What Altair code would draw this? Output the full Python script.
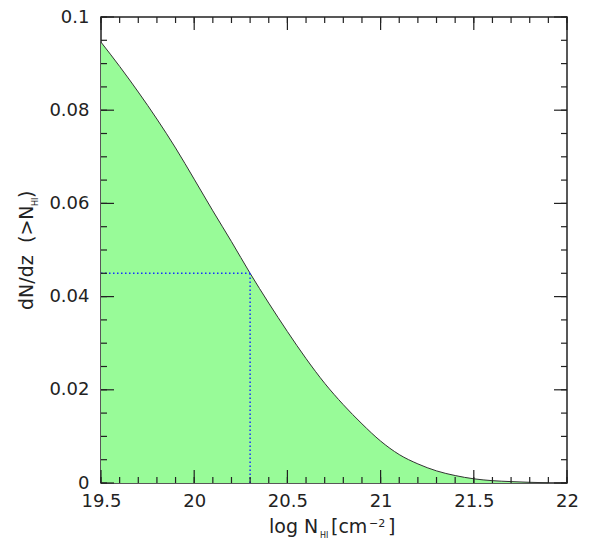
import altair as alt
import pandas as pd

# Cumulative incidence curve
log_nhi = [19.5, 19.6, 19.7, 19.8, 19.9, 20.0, 20.1, 20.2, 20.3, 20.4, 20.5, 20.6,
           20.7, 20.8, 20.9, 21.0, 21.1, 21.2, 21.3, 21.4, 21.5, 21.6, 21.7, 21.8, 21.9]
dndz = [0.0946, 0.0894, 0.0839, 0.0781, 0.0719, 0.0652, 0.0584, 0.0518, 0.0450, 0.0386,
        0.0325, 0.0267, 0.0214, 0.0168, 0.0127, 0.0090, 0.0061, 0.0041, 0.0026, 0.0016,
        0.0009, 0.0005, 0.0003, 0.00015, 0.00005]

# dotted marker
mark_x = 20.3
mark_y = 0.045

# axis ticks
x_major = [19.5, 20.0, 20.5, 21.0, 21.5, 22.0]
x_minor = [round(19.5 + 0.1 * i, 2) for i in range(26)]
y_major = [0.0, 0.02, 0.04, 0.06, 0.08, 0.1]
y_minor = [round(0.005 * i, 3) for i in range(21)]

X0, X1 = 19.5, 22.0
Y0, Y1 = 0.0, 0.1
W = 466
H = 466
MAJ = 13
MIN = 6
INK = "#222222"
FONT = "DejaVu Sans"

xscale = alt.Scale(domain=[X0, X1], nice=False, zero=False)
yscale = alt.Scale(domain=[Y0, Y1], nice=False, zero=False)
xaxis = alt.Axis(values=x_major, format="~g", labelFlush=False, labelOverlap=False,
                 labelPadding=9, title=None)
yaxis = alt.Axis(values=y_major, format="~g", labelFlush=False, labelOverlap=False,
                 labelPadding=12, title=None)


def X(field):
    return alt.X(f"{field}:Q", scale=xscale, axis=xaxis)


def Y(field):
    return alt.Y(f"{field}:Q", scale=yscale, axis=yaxis)


curve = pd.DataFrame({"x": log_nhi, "y": dndz})

area = alt.Chart(curve).mark_area(color="#98FB98", opacity=1, interpolate="monotone").encode(
    x=X("x"), y=Y("y"))
line = alt.Chart(curve).mark_line(color="#333333", strokeWidth=1, interpolate="monotone").encode(
    x=X("x"), y=Y("y"))

hline = alt.Chart(pd.DataFrame({"x": [X0], "x2": [mark_x], "y": [mark_y]})).mark_rule(
    color="#1530ff", strokeDash=[1.5, 2.5], strokeWidth=1.5
).encode(x=X("x"), x2="x2:Q", y=Y("y"))
vline = alt.Chart(pd.DataFrame({"x": [mark_x], "y": [Y0], "y2": [mark_y]})).mark_rule(
    color="#1530ff", strokeDash=[1.5, 2.5], strokeWidth=1.5
).encode(x=X("x"), y=Y("y"), y2="y2:Q")

ypx = (Y1 - Y0) / H
xpx = (X1 - X0) / W
TICK = INK


def xticks(vals, length):
    df = pd.DataFrame({"x": vals})
    bottom = alt.Chart(df).mark_rule(color=TICK, strokeWidth=1.2).encode(
        x=X("x"), y=alt.datum(Y0), y2=alt.datum(Y0 + length * ypx))
    top = alt.Chart(df).mark_rule(color=TICK, strokeWidth=1.2).encode(
        x=X("x"), y=alt.datum(Y1), y2=alt.datum(Y1 - length * ypx))
    return [bottom, top]


def yticks(vals, length):
    df = pd.DataFrame({"y": vals})
    left = alt.Chart(df).mark_rule(color=TICK, strokeWidth=1.2).encode(
        y=Y("y"), x=alt.datum(X0), x2=alt.datum(X0 + length * xpx))
    right = alt.Chart(df).mark_rule(color=TICK, strokeWidth=1.2).encode(
        y=Y("y"), x=alt.datum(X1), x2=alt.datum(X1 - length * xpx))
    return [left, right]


def label(text, x, y, size, angle=0):
    return alt.Chart(pd.DataFrame({"t": [text]})).mark_text(
        align="left", baseline="alphabetic", font=FONT, fontSize=size,
        color=INK, angle=angle
    ).encode(x=alt.value(x), y=alt.value(y), text="t:N")


titles = [
    label("log N", 168, 516, 19),
    label("HI", 219, 521, 8),
    label("[cm", 230, 516, 19),
    label("\u22122", 268, 510, 11),
    label("]", 287, 516, 19),
    label("dN/dz", -68, 293, 19, 270),
    label("(>N", -68, 226, 19, 270),
    label("HI", -63, 189, 8, 270),
    label(")", -68, 181, 19, 270),
]

layers = [area, line, hline, vline]
layers += xticks(x_minor, MIN) + xticks(x_major, MAJ)
layers += yticks(y_minor, MIN) + yticks(y_major, MAJ)
layers += titles

chart = alt.layer(*layers).properties(
    width=W, height=H,
    autosize=alt.AutoSizeParams(type="none"),
    padding={"left": 93, "top": 9, "right": 23, "bottom": 63},
).configure_view(
    stroke=INK, strokeWidth=1.5
).configure_axis(
    ticks=False, domain=False, grid=False,
    labelFont=FONT, labelFontSize=18, labelColor=INK,
)

chart.save("out.html", embed_options={"renderer": "svg", "actions": False})
